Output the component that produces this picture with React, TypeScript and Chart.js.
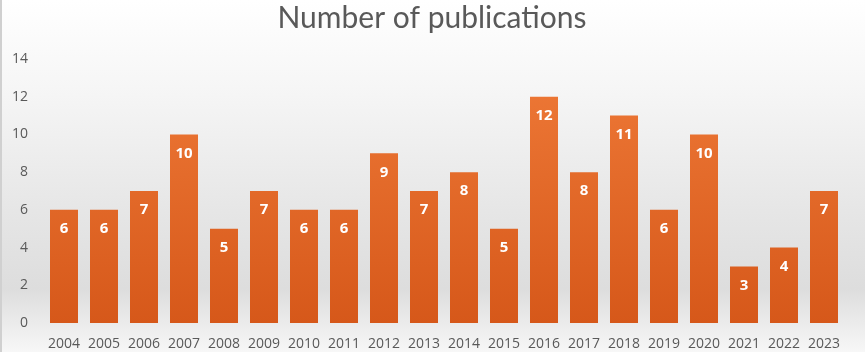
import React, { useEffect, useRef } from "react";
import { Chart, registerables } from "chart.js";

Chart.register(...registerables);

const years = ["2004","2005","2006","2007","2008","2009","2010","2011","2012","2013","2014","2015","2016","2017","2018","2019","2020","2021","2022","2023"];
const publications = [6,6,7,10,5,7,6,6,9,7,8,5,12,8,11,6,10,3,4,7];
const titleText = "Number of publications";

const FONT = "'Open Sans', 'Noto Sans', sans-serif";
const TITLE_FONT = "Lato, 'Open Sans', sans-serif";

const bgPlugin = {
  id: "bgPlugin",
  beforeDraw(chart: any) {
    const { ctx, width, height } = chart;
    ctx.save();
    const g = ctx.createLinearGradient(0, 0, 0, height);
    g.addColorStop(0, "#ffffff");
    g.addColorStop(0.25, "#f6f6f6");
    g.addColorStop(0.6, "#e6e6e6");
    g.addColorStop(0.82, "#dddddd");
    g.addColorStop(1, "#f7f7f7");
    ctx.fillStyle = g;
    ctx.fillRect(0, 0, width, height);
    ctx.fillStyle = "#d0d0d0";
    ctx.fillRect(0, 0, 2, height);
    ctx.font = `30px ${TITLE_FONT}`;
    ctx.fillStyle = "#595959";
    ctx.textAlign = "center";
    ctx.textBaseline = "alphabetic";
    ctx.fillText(titleText, 432, 28);
    ctx.restore();
  },
};

const labelPlugin = {
  id: "labelPlugin",
  afterDatasetsDraw(chart: any) {
    const { ctx } = chart;
    const meta = chart.getDatasetMeta(0);
    ctx.save();
    ctx.font = `bold 15px ${FONT}`;
    ctx.fillStyle = "#ffffff";
    ctx.textAlign = "center";
    ctx.textBaseline = "middle";
    meta.data.forEach((bar: any, i: number) => {
      ctx.fillText(String(publications[i]), bar.x, bar.y + 19);
    });
    ctx.restore();
  },
};

export default function App() {
  const ref = useRef<HTMLCanvasElement>(null);
  useEffect(() => {
    document.body.style.margin = "0";
    const chart = new Chart(ref.current!, {
      type: "bar",
      data: {
        labels: years,
        datasets: [
          {
            data: publications,
            backgroundColor: (c: any) => {
              const area = c.chart.chartArea;
              if (!area) return "#e2631f";
              const g = c.chart.ctx.createLinearGradient(0, area.top, 0, area.bottom);
              g.addColorStop(0, "#ef7a38");
              g.addColorStop(1, "#d6581a");
              return g;
            },
            borderWidth: 0,
            inflateAmount: 0,
            categoryPercentage: 1,
            barPercentage: 0.7,
          },
        ],
      },
      options: {
        animation: false,
        responsive: false,
        layout: { padding: { top: 59, right: 21, bottom: 0, left: 0 } },
        plugins: { legend: { display: false }, tooltip: { enabled: false }, title: { display: false } },
        scales: {
          x: {
            grid: { display: false, drawTicks: false },
            border: { display: false },
            ticks: { color: "#595959", font: { family: FONT, size: 14 }, padding: 13, maxRotation: 0, autoSkip: false },
            afterFit: (s: any) => { s.height = 29; },
          },
          y: {
            min: 0,
            max: 14,
            grid: { display: false, drawTicks: false },
            border: { display: false },
            ticks: { stepSize: 2, color: "#595959", font: { family: FONT, size: 14 }, padding: 16 },
            afterFit: (s: any) => { s.width = 44; },
          },
        },
      },
      plugins: [bgPlugin, labelPlugin],
    });
    return () => chart.destroy();
  }, []);
  return <canvas ref={ref} width={865} height={352} style={{ display: "block" }} />;
}
